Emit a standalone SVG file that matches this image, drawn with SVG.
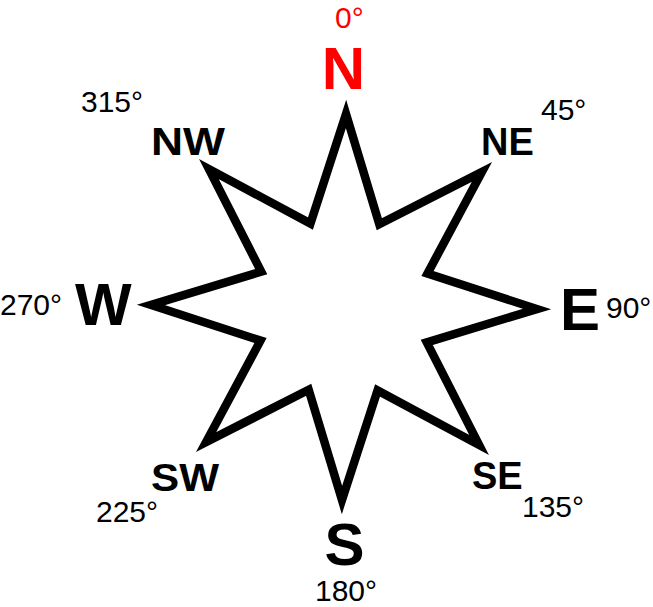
<svg xmlns="http://www.w3.org/2000/svg" width="653" height="607" viewBox="0 0 653 607">
<style>
.card{font-family:"Liberation Sans",Arial,sans-serif;font-weight:bold;font-size:60px;fill:#000}
.inter{font-family:"Liberation Sans",Arial,sans-serif;font-weight:bold;font-size:38px;fill:#000}
.deg{font-family:"Liberation Sans",Arial,sans-serif;font-size:30px;fill:#000}
.red{fill:#ff0000}
</style>
<rect width="653" height="607" fill="#fff"/>
<g id="star">
<polygon transform="rotate(0.6 344 307)" fill="#fff" stroke="#000" stroke-width="8.5" stroke-linejoin="miter" stroke-miterlimit="10"
 points="344,114 378.44,223.85 480.47,170.53 427.15,272.56 537,307 427.15,341.44 480.47,443.47 378.44,390.15 344,500 309.56,390.15 207.53,443.47 260.85,341.44 151,307 260.85,272.56 207.53,170.53 309.56,223.85"/>
</g>
<g id="north"><text class="card red" x="343.5" y="89" text-anchor="middle">N</text><text class="deg red" x="335" y="28">0°</text></g>
<g id="northeast"><text class="inter" x="481" y="155">NE</text><text class="deg" x="541" y="120">45°</text></g>
<g id="east"><text class="card" x="560" y="330">E</text><text class="deg" x="606" y="318">90°</text></g>
<g id="southeast"><text class="inter" x="472" y="489">SE</text><text class="deg" x="522" y="517">135°</text></g>
<g id="south"><text class="card" x="344.5" y="565" text-anchor="middle">S</text><text class="deg" x="315" y="601">180°</text></g>
<g id="southwest"><text class="inter" x="151" y="491" textLength="68" lengthAdjust="spacingAndGlyphs">SW</text><text class="deg" x="96" y="522">225°</text></g>
<g id="west"><text class="card" x="75" y="325">W</text><text class="deg" x="0" y="315">270°</text></g>
<g id="northwest"><text class="inter" x="151" y="155" textLength="74" lengthAdjust="spacingAndGlyphs">NW</text><text class="deg" x="81" y="112">315°</text></g>
</svg>
